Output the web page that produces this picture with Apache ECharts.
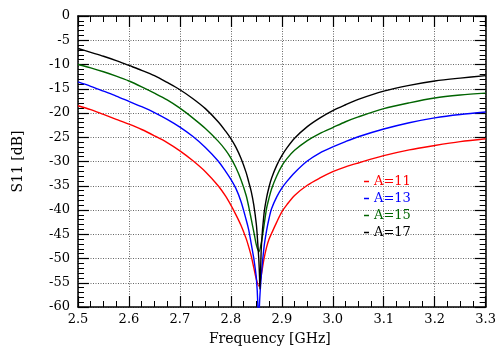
<!DOCTYPE html>
<html>
<head>
<meta charset="utf-8">
<script src="https://cdn.jsdelivr.net/npm/echarts@6/dist/echarts.min.js"></script>
<style>
html,body{margin:0;padding:0;background:#fff;}
#c{width:499px;height:351px;}
</style>
</head>
<body>
<div id="c"></div>
<script>
// ---- data ----
const seriesNames = ['A=11', 'A=13', 'A=15', 'A=17'];
const seriesColors = ['#ff0000', '#0000ff', '#006400', '#000000'];

const freqA11 = [2.50, 2.525, 2.55, 2.575, 2.60, 2.625, 2.65, 2.675, 2.70, 2.725, 2.75, 2.775, 2.79, 2.80, 2.81, 2.82, 2.83, 2.835, 2.84, 2.845, 2.85,
                 2.855,
                 2.86, 2.865, 2.87, 2.875, 2.88, 2.89, 2.90, 2.91, 2.925, 2.95, 2.975, 3.00, 3.025, 3.05, 3.10, 3.15, 3.20, 3.25, 3.30];
const s11A11  = [-18.5, -19.3, -20.3, -21.3, -22.3, -23.4, -24.7, -26.1, -27.8, -29.8, -32.1, -35.0, -37.2, -39.0, -41.0, -43.2, -45.9, -47.6, -49.5, -51.9, -54.3,
                 -55.7,
                 -53.2, -50.1, -47.7, -46.0, -44.8, -42.5, -40.4, -38.9, -37.0, -34.9, -33.4, -32.1, -31.1, -30.3, -28.8, -27.6, -26.7, -25.9, -25.3];

const freqA13 = [2.50, 2.525, 2.55, 2.575, 2.60, 2.625, 2.65, 2.675, 2.70, 2.725, 2.75, 2.775, 2.79, 2.80, 2.81, 2.82, 2.83, 2.835, 2.84, 2.845, 2.85,
                 2.853, 2.8545, 2.856,
                 2.86, 2.865, 2.87, 2.875, 2.88, 2.89, 2.90, 2.91, 2.925, 2.95, 2.975, 3.00, 3.025, 3.05, 3.10, 3.15, 3.20, 3.25, 3.30];
const s11A13  = [-13.6, -14.5, -15.5, -16.5, -17.6, -18.7, -19.9, -21.3, -22.9, -24.8, -27.1, -29.9, -32.1, -33.7, -35.6, -38.3, -42.0, -44.1, -47.0, -50.0, -54.0,
                 -59.8, -70.0, -59.8,
                 -53.2, -47.7, -44.3, -41.7, -39.7, -37.3, -35.5, -34.1, -32.3, -29.9, -28.2, -27.0, -25.9, -24.9, -23.3, -22.0, -21.0, -20.3, -19.8];

const freqA15 = [2.50, 2.525, 2.55, 2.575, 2.60, 2.625, 2.65, 2.675, 2.70, 2.725, 2.75, 2.775, 2.79, 2.80, 2.81, 2.82, 2.83, 2.835, 2.84, 2.845, 2.85,
                 2.855,
                 2.86, 2.865, 2.87, 2.875, 2.88, 2.89, 2.90, 2.91, 2.925, 2.95, 2.975, 3.00, 3.025, 3.05, 3.10, 3.15, 3.20, 3.25, 3.30];
const s11A15  = [-10.0, -10.7, -11.5, -12.4, -13.4, -14.6, -15.9, -17.3, -19.0, -21.0, -23.2, -25.8, -27.7, -29.3, -31.3, -33.8, -37.0, -39.3, -41.9, -44.5, -47.2,
                 -48.6,
                 -46.6, -43.2, -39.7, -37.5, -35.6, -33.0, -30.9, -29.4, -27.7, -25.7, -24.2, -23.0, -21.8, -20.8, -19.1, -17.9, -16.9, -16.3, -15.9];

const freqA17 = [2.50, 2.525, 2.55, 2.575, 2.60, 2.625, 2.65, 2.675, 2.70, 2.725, 2.75, 2.775, 2.79, 2.80, 2.81, 2.82, 2.83, 2.835, 2.84, 2.845, 2.85,
                 2.8528, 2.855, 2.8562, 2.857, 2.858,
                 2.86, 2.865, 2.87, 2.875, 2.88, 2.89, 2.90, 2.91, 2.925, 2.95, 2.975, 3.00, 3.025, 3.05, 3.10, 3.15, 3.20, 3.25, 3.30];
const s11A17  = [-6.7, -7.5, -8.3, -9.2, -10.2, -11.2, -12.3, -13.7, -15.2, -17.0, -19.1, -21.8, -23.8, -25.3, -27.1, -29.4, -32.3, -34.2, -36.2, -39.0, -43.0,
                 -46.9, -50.5, -53.7, -56.3, -53.7,
                 -47.2, -40.8, -37.5, -35.2, -33.4, -30.8, -28.8, -27.2, -25.2, -22.8, -21.0, -19.5, -18.3, -17.2, -15.5, -14.3, -13.4, -12.8, -12.3];

const xTickLabels = ['2.5', '2.6', '2.7', '2.8', '2.9', '3.0', '3.1', '3.2', '3.3'];
const yTickLabels = ['-60', '-55', '-50', '-45', '-40', '-35', '-30', '-25', '-20', '-15', '-10', '-5', '0'];

const allFreq = [freqA11, freqA13, freqA15, freqA17];
const allS11 = [s11A11, s11A13, s11A15, s11A17];

// ---- chart ----
const FONT = 'DejaVu Serif';
const X_MIN = 2.5, X_MAX = 3.3, X_INT = 0.1;
const Y_MIN = -60, Y_MAX = 0, Y_INT = 5;

const chart = echarts.init(document.getElementById('c'), null, {renderer: 'canvas'});

function xLabel(v) {
  const i = Math.round((v - X_MIN) / X_INT);
  return xTickLabels[i] !== undefined ? xTickLabels[i] : '';
}
function yLabel(v) {
  const i = Math.round((v - Y_MIN) / Y_INT);
  return yTickLabels[i] !== undefined ? yTickLabels[i] : '';
}

const axisLineStyle = {color: '#000', width: 1.5};
const gridLineStyle = {color: '#666', width: 1, type: [1, 1.5]};

function xAxisDef(pos, primary) {
  return {
    type: 'value', position: pos, min: X_MIN, max: X_MAX, interval: X_INT,
    axisLine: {show: true, onZero: false, lineStyle: axisLineStyle},
    axisTick: {show: true, inside: true, length: 11, lineStyle: {color: '#000', width: 1.2}},
    minorTick: {show: true, splitNumber: 4, length: 6, lineStyle: {color: '#000', width: 1}},
    axisLabel: primary ? {show: true, formatter: xLabel, fontFamily: FONT, fontSize: 13, color: '#000', margin: 6} : {show: false},
    splitLine: primary ? {show: true, lineStyle: gridLineStyle} : {show: false},
    name: primary ? 'Frequency [GHz]' : '',
    nameLocation: 'middle', nameGap: 25,
    nameTextStyle: {fontFamily: FONT, fontSize: 14, color: '#000', padding: [0, 24, 0, 0]}
  };
}
function yAxisDef(pos, primary) {
  return {
    type: 'value', position: pos, min: Y_MIN, max: Y_MAX, interval: Y_INT,
    axisLine: {show: true, onZero: false, lineStyle: axisLineStyle},
    axisTick: {show: true, inside: true, length: 11, lineStyle: {color: '#000', width: 1.2}},
    minorTick: {show: true, splitNumber: 5, length: 6, lineStyle: {color: '#000', width: 1}},
    axisLabel: primary ? {show: true, formatter: yLabel, fontFamily: FONT, fontSize: 13, color: '#000', margin: 8} : {show: false},
    splitLine: primary ? {show: true, lineStyle: gridLineStyle} : {show: false},
    name: primary ? 'S11 [dB]' : '',
    nameLocation: 'middle', nameGap: 53, nameRotate: 90,
    nameTextStyle: {fontFamily: FONT, fontSize: 14, color: '#000'}
  };
}

const series = seriesNames.map((name, k) => ({
  name: name,
  type: 'line',
  xAxisIndex: 0, yAxisIndex: 0,
  data: allFreq[k].map((f, i) => [f, allS11[k][i]]),
  showSymbol: false,
  smooth: 0.3,
  clip: true,
  lineStyle: {color: seriesColors[k], width: 1.4},
  itemStyle: {color: seriesColors[k]},
  emphasis: {disabled: true},
  animation: false
}));

chart.setOption({
  animation: false,
  backgroundColor: '#fff',
  grid: {left: 78, right: 12, top: 16, bottom: 39, containLabel: false},
  xAxis: [xAxisDef('bottom', true), xAxisDef('top', false)],
  yAxis: [yAxisDef('left', true), yAxisDef('right', false)],
  legend: {
    show: true, orient: 'vertical', left: 359, top: 168,
    icon: 'rect', itemWidth: 5, itemHeight: 1.5, itemGap: 0,
    selectedMode: false,
    textStyle: {fontFamily: FONT, fontSize: 13, lineHeight: 17},
    data: seriesNames.map((n, k) => ({name: n, textStyle: {color: seriesColors[k]}}))
  },
  series: series
});
</script>
</body>
</html>
